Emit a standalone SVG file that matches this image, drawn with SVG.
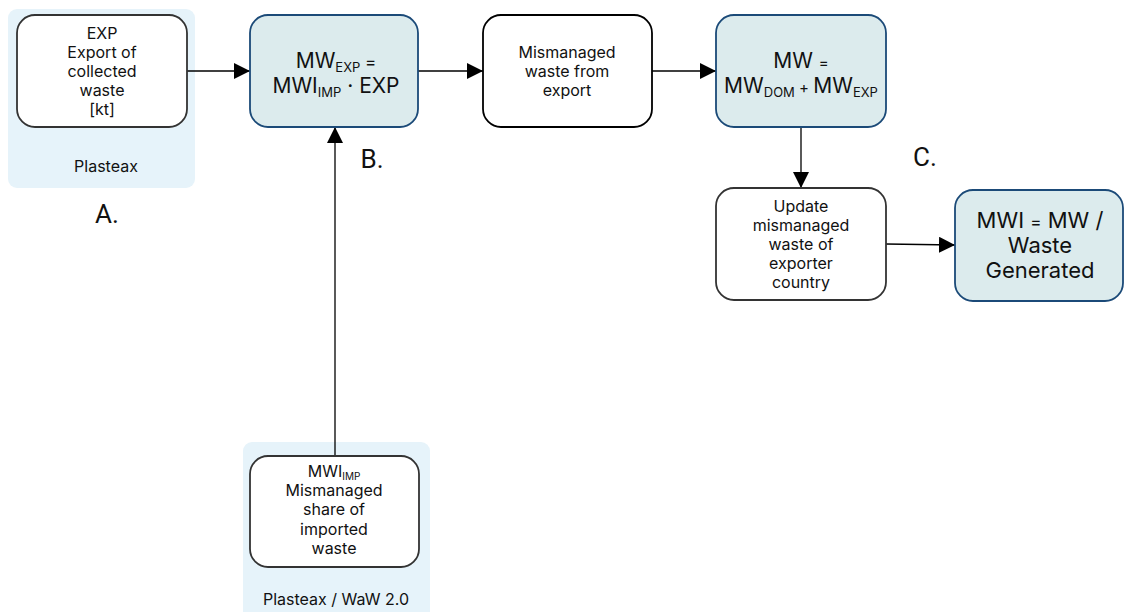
<svg xmlns="http://www.w3.org/2000/svg" width="1124" height="612" viewBox="0 0 1124 612">
<defs>
<marker id="arrL" viewBox="0 0 16 16" refX="16" refY="8" markerWidth="16" markerHeight="16" markerUnits="userSpaceOnUse" orient="auto"><path d="M0,0 L16,8 L0,16 z" fill="#000"/></marker>
</defs>
<style>
.panel{fill:#e6f3fa;}
.w{fill:#fff;stroke:#333;stroke-width:1.8;}
.wb{fill:#fff;stroke:#000;stroke-width:1.8;}
.b{fill:#dcebed;stroke:#1b4a78;stroke-width:1.8;}
text{font-family:Inter,"Liberation Sans",sans-serif;fill:#111;text-anchor:middle;}
.s{font-size:16px;}
.l{font-size:21px;}
.xl{font-size:22px;}
.lab{font-size:26px;font-family:Roboto,"Liberation Sans",sans-serif;}
.sub{font-size:13px;}
.c{stroke:#000;stroke-width:1.3;fill:none;marker-end:url(#arrL);}
</style>
<g id="panelA"><rect class="panel" x="8" y="9" width="187" height="179" rx="9"/><text class="s" x="106" y="172">Plasteax</text></g>
<g id="panelBottom"><rect class="panel" x="243" y="442" width="187" height="180" rx="9"/><text class="s" x="336" y="605">Plasteax / WaW 2.0</text></g>
<g id="labels">
<text class="lab" x="107" y="223">A.</text>
<text class="lab" x="372" y="168">B.</text>
<text class="lab" x="925" y="166">C.</text>
</g>
<g id="connectors">
<line class="c" x1="187" y1="71" x2="250" y2="71"/>
<line class="c" x1="418" y1="71" x2="483" y2="71"/>
<line class="c" x1="652" y1="71" x2="716" y2="71"/>
<line class="c" x1="801" y1="127" x2="801" y2="188"/>
<line class="c" x1="886" y1="244" x2="955" y2="245"/>
<line class="c" x1="335" y1="456" x2="335" y2="127"/>
</g>
<g id="nodeEXP"><rect class="w" x="17" y="15" width="170" height="112" rx="18"/>
<text class="s"><tspan x="102" y="39">EXP</tspan><tspan x="102" y="58">Export of</tspan><tspan x="102" y="77">collected</tspan><tspan x="102" y="96">waste</tspan><tspan x="102" y="115">[kt]</tspan></text></g>
<g id="nodeMWEXP"><rect class="b" x="250" y="15" width="168" height="112" rx="18"/>
<text class="l" x="336" y="68">MW<tspan class="sub" dy="4">EXP</tspan><tspan dy="-4" style="font-size:17px"> =</tspan></text>
<text class="l" x="336" y="93">MWI<tspan class="sub" dy="4">IMP</tspan><tspan dy="-4"> · EXP</tspan></text></g>
<g id="nodeMismanaged"><rect class="wb" x="483" y="15" width="169" height="112" rx="18"/>
<text class="s"><tspan x="567" y="58">Mismanaged</tspan><tspan x="567" y="77">waste from</tspan><tspan x="567" y="96">export</tspan></text></g>
<g id="nodeMW"><rect class="b" x="716" y="15" width="170" height="112" rx="18"/>
<text class="l" x="801" y="68">MW <tspan style="font-size:15px">=</tspan></text>
<text class="l" x="801" y="93">MW<tspan class="sub" dy="4">DOM</tspan><tspan dy="-4" style="font-size:15px"> + </tspan>MW<tspan class="sub" dy="4">EXP</tspan></text></g>
<g id="nodeUpdate"><rect class="w" x="716" y="188" width="170" height="112" rx="18"/>
<text class="s"><tspan x="801" y="212">Update</tspan><tspan x="801" y="231">mismanaged</tspan><tspan x="801" y="250">waste of</tspan><tspan x="801" y="269">exporter</tspan><tspan x="801" y="288">country</tspan></text></g>
<g id="nodeMWI"><rect class="b" x="955" y="190" width="168" height="111" rx="18"/>
<text class="xl"><tspan x="1040" y="228">MWI <tspan style="font-size:17px">=</tspan> MW /</tspan><tspan x="1040" y="253">Waste</tspan><tspan x="1040" y="278">Generated</tspan></text></g>
<g id="nodeMWIIMP"><rect class="w" x="250" y="456" width="169" height="111" rx="18"/>
<text class="s"><tspan x="334" y="477">MWI<tspan style="font-size:10px" dy="3">IMP</tspan></tspan><tspan x="334" y="496">Mismanaged</tspan><tspan x="334" y="515">share of</tspan><tspan x="334" y="535">imported</tspan><tspan x="334" y="554">waste</tspan></text></g>
</svg>
